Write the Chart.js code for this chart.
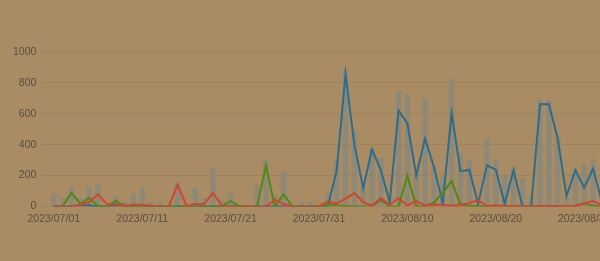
<!DOCTYPE html>
<html>
<head>
<meta charset="utf-8">
<script src="https://cdn.jsdelivr.net/npm/chart.js@4"></script>
<style>
  html, body { margin: 0; padding: 0; background: #aa8c64; overflow: hidden; }
  #wrap { position: absolute; left: 0; top: 0; width: 660px; height: 261px; }
</style>
</head>
<body>
<div id="wrap"><canvas id="c"></canvas></div>
<script>
const categories = [
  "2023/07/01","2023/07/02","2023/07/03","2023/07/04","2023/07/05","2023/07/06","2023/07/07","2023/07/08","2023/07/09","2023/07/10",
  "2023/07/11","2023/07/12","2023/07/13","2023/07/14","2023/07/15","2023/07/16","2023/07/17","2023/07/18","2023/07/19","2023/07/20",
  "2023/07/21","2023/07/22","2023/07/23","2023/07/24","2023/07/25","2023/07/26","2023/07/27","2023/07/28","2023/07/29","2023/07/30",
  "2023/07/31","2023/08/01","2023/08/02","2023/08/03","2023/08/04","2023/08/05","2023/08/06","2023/08/07","2023/08/08","2023/08/09",
  "2023/08/10","2023/08/11","2023/08/12","2023/08/13","2023/08/14","2023/08/15","2023/08/16","2023/08/17","2023/08/18","2023/08/19",
  "2023/08/20","2023/08/21","2023/08/22","2023/08/23","2023/08/24","2023/08/25","2023/08/26","2023/08/27","2023/08/28","2023/08/29",
  "2023/08/30","2023/08/31","2023/09/01","2023/09/02","2023/09/03"
];
const barValues = [
  85,55,125,55,125,145,0,65,28,85,
  125,28,33,0,148,0,125,54,255,45,
  86,0,0,136,303,67,225,0,27,32,
  0,85,300,895,487,128,374,315,28,748,
  726,210,700,255,190,826,346,305,0,438,
  305,206,255,185,57,695,688,442,60,245,
  277,305,100,200,150
];
const blueValues = [
  0,0,0,8,8,0,0,8,5,0,
  0,0,0,0,0,0,0,0,0,0,
  0,0,0,0,0,0,0,0,0,0,
  0,0,233,856,400,120,370,234,28,620,
  538,200,440,255,22,604,228,236,17,266,
  238,18,234,5,0,662,662,440,67,234,
  121,245,30,180,90
];
const greenValues = [
  0,0,88,17,55,3,0,35,3,0,
  0,0,0,0,0,0,0,0,0,0,
  35,0,0,0,265,0,78,0,0,0,
  0,12,8,3,0,0,0,43,0,0,
  198,0,0,25,88,165,12,5,3,0,
  0,0,0,0,0,0,0,0,0,5,
  20,5,0,0,0
];
const redValues = [
  0,0,0,12,28,78,15,14,5,12,
  10,5,0,0,140,5,15,15,88,5,
  0,0,0,0,0,43,15,0,0,0,
  0,33,18,50,86,28,5,54,10,54,
  5,35,5,12,10,5,12,20,40,2,
  8,3,3,3,3,3,3,3,3,3,
  20,35,8,0,0
];
const yTicks = [0, 200, 400, 600, 800, 1000];

const labelFont = { family: "'Liberation Sans', sans-serif", size: 10.5 };
const textColor = '#5a4e40';

new Chart(document.getElementById('c'), {
  data: {
    labels: categories,
    datasets: [
      { type: 'line', data: redValues, borderColor: '#d2452e', borderWidth: 2, pointRadius: 0, tension: 0, order: 1 },
      { type: 'line', data: greenValues, borderColor: '#4f8a14', borderWidth: 2, pointRadius: 0, tension: 0, order: 2 },
      { type: 'line', data: blueValues, borderColor: '#2c6c8c', borderWidth: 2, pointRadius: 0, tension: 0, order: 3 },
      { type: 'bar', data: barValues, backgroundColor: 'rgba(130,135,125,0.7)', categoryPercentage: 0.8, barPercentage: 0.75, order: 4 }
    ]
  },
  options: {
    responsive: true,
    maintainAspectRatio: false,
    animation: false,
    layout: { padding: { left: 8, right: 36, top: 52, bottom: 30 } },
    plugins: { legend: { display: false }, tooltip: { enabled: false } },
    scales: {
      x: {
        offset: true,
        grid: { display: false, drawTicks: false },
        border: { display: false },
        ticks: {
          autoSkip: false, maxRotation: 0, minRotation: 0, padding: 6,
          color: textColor, font: labelFont,
          callback: function (v, i) { return i % 10 === 0 ? categories[i] : ''; }
        }
      },
      y: {
        min: 0, max: 1000,
        afterBuildTicks: function (axis) { axis.ticks = yTicks.map(v => ({ value: v })); },
        grid: { color: 'rgba(0,0,0,0.06)', lineWidth: 1, tickLength: 8 },
        border: { display: false },
        ticks: { color: textColor, font: labelFont, padding: 5, callback: function (v) { return String(v); } }
      }
    }
  }
});
</script>
</body>
</html>
